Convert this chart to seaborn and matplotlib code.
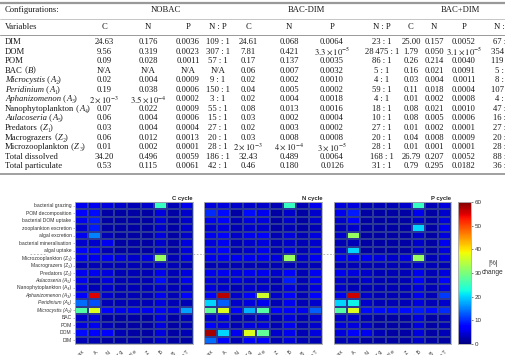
import numpy as np
import pandas as pd
import seaborn as sns
import matplotlib
matplotlib.use("Agg")
from matplotlib import pyplot as plt

# ---- table data ----
configs = ["NOBAC", "BAC-DIM", "BAC+DIM"]
var_names = [
    "DIM", "DOM", "POM", "BAC", "Microcystis", "Peridinium", "Aphanizomenon",
    "Nanophytoplankton", "Aulacoseria", "Predators", "Macrograzers",
    "Microzooplankton", "Total dissolved", "Total particulate",
]
var_symbols = ["", "", "", "B", "A\u2082", "A\u2081", "A\u2083", "A\u2084",
               "A\u2085", "Z\u2081", "Z\u2082", "Z\u2083", "", ""]
italic_names = ["Microcystis", "Peridinium", "Aphanizomenon", "Aulacoseria"]
nobac = [
    ["24.63", "0.176", "0.0036", "109 : 1"],
    ["9.56", "0.319", "0.0023", "307 : 1"],
    ["0.09", "0.028", "0.0011", "57 : 1"],
    ["N/A", "N/A", "N/A", "N/A"],
    ["0.02", "0.004", "0.0009", "9 : 1"],
    ["0.19", "0.038", "0.0006", "150 : 1"],
    [r"$2\times10^{-3}$", r"$3.5\times10^{-4}$", "0.0002", "3 : 1"],
    ["0.07", "0.022", "0.0009", "55 : 1"],
    ["0.06", "0.004", "0.0006", "15 : 1"],
    ["0.03", "0.004", "0.0004", "27 : 1"],
    ["0.06", "0.012", "0.0013", "20 : 1"],
    ["0.01", "0.002", "0.0001", "28 : 1"],
    ["34.20", "0.496", "0.0059", "186 : 1"],
    ["0.53", "0.115", "0.0061", "42 : 1"],
]
bac_dim = [
    ["24.61", "0.068", "0.0064", "23 : 1"],
    ["7.81", "0.421", r"$3.3\times10^{-5}$", "28\u2009475 : 1"],
    ["0.17", "0.137", "0.0035", "86 : 1"],
    ["0.06", "0.007", "0.0032", "5 : 1"],
    ["0.02", "0.002", "0.0010", "4 : 1"],
    ["0.04", "0.005", "0.0002", "59 : 1"],
    ["0.02", "0.004", "0.0018", "4 : 1"],
    ["0.08", "0.013", "0.0016", "18 : 1"],
    ["0.03", "0.002", "0.0004", "10 : 1"],
    ["0.02", "0.003", "0.0002", "27 : 1"],
    ["0.03", "0.008", "0.0008", "20 : 1"],
    [r"$2\times10^{-3}$", r"$4\times10^{-4}$", r"$3\times10^{-5}$", "28 : 1"],
    ["32.43", "0.489", "0.0064", "168 : 1"],
    ["0.46", "0.180", "0.0126", "31 : 1"],
]
bac_plus_dim = [
    ["25.00", "0.157", "0.0052", "67 : 1"],
    ["1.79", "0.050", r"$3.1\times10^{-5}$", "354 : 1"],
    ["0.26", "0.214", "0.0040", "119 : 1"],
    ["0.16", "0.021", "0.0091", "5 : 1"],
    ["0.03", "0.004", "0.0011", "8 : 1"],
    ["0.11", "0.018", "0.0004", "107 : 1"],
    ["0.01", "0.002", "0.0008", "4 : 1"],
    ["0.08", "0.021", "0.0010", "47 : 1"],
    ["0.08", "0.005", "0.0006", "16 : 1"],
    ["0.01", "0.002", "0.0001", "27 : 1"],
    ["0.04", "0.008", "0.0009", "20 : 1"],
    ["0.01", "0.001", "0.0001", "28 : 1"],
    ["26.79", "0.207", "0.0052", "88 : 1"],
    ["0.79", "0.295", "0.0182", "36 : 1"],
]
sub_cols = ["C", "N", "P", "N : P"]

# ---- heatmap data (|%| change) ----
rows = [
    "bacterial grazing", "POM decomposition", "bacterial DOM uptake",
    "zooplankton excretion", "algal excretion", "bacterial mineralisation",
    "algal uptake", "Microzooplankton (Z\u2083)", "Macrograzers (Z\u2082)",
    "Predators (Z\u2081)", "Aulacoseria (A\u2085)", "Nanophytoplankton (A\u2084)",
    "Aphanizomenon (A\u2083)", "Peridinium (A\u2081)", "Microcystis (A\u2082)",
    "BAC", "POM", "DOM", "DIM",
]
italic_rows = ["Aulacoseria (A\u2085)", "Aphanizomenon (A\u2083)",
               "Peridinium (A\u2081)", "Microcystis (A\u2082)"]
params = ["growth rate r_max", "mort m_A", "half-sat k_N", "graz g",
          "eff e", "mort m_Z", "bact. growth r_B", "k_B", "temp T"]

c_cycle = [
    [6, 6, 5, 4, 3, 4, 25, 3, 6],
    [7, 8, 2, 2, 2, 2, 5, 2, 4],
    [6, 9, 2, 2, 2, 2, 5, 2, 4],
    [4, 9, 2, 2, 2, 2, 4, 2, 4],
    [6, 15, 3, 2, 2, 2, 5, 2, 4],
    [4, 4, 6, 2, 2, 2, 4, 2, 5],
    [7, 7, 3, 2, 2, 2, 4, 2, 5],
    [6, 6, 6, 5, 4, 5, 32, 3, 5],
    [3, 3, 3, 3, 3, 3, 4, 3, 3],
    [6, 6, 5, 3, 3, 3, 6, 3, 5],
    [6, 3, 5, 3, 3, 3, 8, 3, 6],
    [5, 3, 4, 3, 3, 3, 4, 3, 4],
    [7, 55, 4, 3, 3, 3, 6, 3, 7],
    [14, 12, 3, 3, 3, 3, 5, 3, 3],
    [27, 37, 7, 6, 6, 6, 7, 5, 17],
    [4, 5, 2, 2, 2, 2, 5, 2, 3],
    [5, 6, 3, 2, 2, 2, 5, 2, 3],
    [8, 7, 7, 3, 2, 2, 5, 2, 3],
    [3, 3, 2, 2, 2, 2, 4, 2, 2],
]
n_cycle = [
    [5, 5, 4, 4, 4, 3, 25, 3, 6],
    [10, 8, 2, 8, 6, 2, 4, 2, 4],
    [6, 7, 3, 5, 5, 2, 4, 2, 4],
    [4, 5, 3, 4, 4, 2, 3, 2, 3],
    [6, 7, 4, 6, 7, 3, 5, 3, 5],
    [5, 6, 3, 4, 5, 3, 4, 3, 4],
    [6, 7, 3, 4, 6, 3, 5, 3, 5],
    [6, 6, 6, 6, 6, 5, 32, 4, 6],
    [3, 3, 3, 3, 3, 3, 3, 3, 3],
    [6, 6, 5, 6, 6, 4, 7, 3, 6],
    [5, 4, 5, 4, 4, 3, 9, 3, 6],
    [5, 4, 3, 4, 4, 3, 5, 3, 5],
    [7, 57, 4, 7, 36, 4, 7, 3, 7],
    [20, 13, 4, 5, 6, 3, 6, 3, 4],
    [28, 37, 7, 18, 27, 7, 7, 6, 13],
    [4, 5, 3, 3, 4, 3, 5, 3, 4],
    [7, 5, 3, 5, 5, 3, 6, 3, 4],
    [58, 20, 6, 37, 28, 4, 6, 3, 5],
    [14, 7, 3, 7, 7, 3, 5, 3, 3],
]
p_cycle = [
    [5, 5, 3, 3, 3, 4, 25, 3, 5],
    [6, 9, 2, 2, 2, 2, 6, 2, 4],
    [4, 7, 2, 2, 2, 2, 4, 2, 5],
    [3, 4, 2, 2, 2, 2, 20, 2, 6],
    [4, 32, 2, 2, 2, 2, 4, 2, 5],
    [3, 3, 2, 2, 2, 2, 4, 2, 6],
    [4, 20, 2, 2, 2, 2, 4, 2, 5],
    [6, 6, 6, 5, 4, 5, 32, 3, 5],
    [3, 3, 3, 3, 3, 3, 4, 3, 3],
    [6, 5, 4, 3, 3, 3, 6, 3, 5],
    [4, 3, 4, 3, 3, 3, 7, 3, 7],
    [4, 3, 3, 3, 3, 3, 5, 3, 5],
    [6, 56, 4, 3, 3, 3, 6, 3, 11],
    [20, 22, 4, 3, 3, 3, 5, 3, 4],
    [27, 37, 8, 8, 8, 8, 9, 8, 10],
    [4, 4, 3, 2, 2, 2, 5, 2, 3],
    [5, 5, 4, 2, 2, 2, 5, 2, 3],
    [5, 7, 6, 3, 2, 2, 5, 2, 3],
    [3, 3, 2, 2, 2, 2, 4, 2, 2],
]
cycles = {"C cycle": c_cycle, "N cycle": n_cycle, "P cycle": p_cycle}

sns.set_theme(style="white")
plt.rcParams["font.family"] = ["Liberation Sans", "DejaVu Sans"]
plt.rcParams["mathtext.fontset"] = "stix"

W, H = 505, 355
fig = plt.figure(figsize=(W / 100, H / 100), dpi=100)


def box(x0, x1, y0, y1):
    return [x0 / W, 1 - y1 / H, (x1 - x0) / W, (y1 - y0) / H]


# table drawn in pixel coordinates
tab = fig.add_axes([0, 0, 1, 1], zorder=0)
tab.set_xlim(0, W)
tab.set_ylim(H, 0)
tab.axis("off")
serif = dict(family=["Liberation Serif", "DejaVu Serif"], fontsize=6.2,
             color="#1a1a1a")

col_x = [104, 148, 188, 218, 248, 289, 332, 382, 411, 434, 464, 503]
head_x = [166, 306, 460]
y_conf, y_var, y0, dy = 9.5, 27, 42, 9.55

tab.axhline(3, color="#999999", lw=1.6)
tab.axhline(18.5, color="#bbbbbb", lw=0.6)
tab.axhline(35, color="#999999", lw=0.7)
tab.axhline(y0 + 13 * dy + 7.5, color="#999999", lw=1.3)

tab.text(5, y_conf, "Configurations:", ha="left", va="center", **serif)
tab.text(5, y_var, "Variables", ha="left", va="center", **serif)
for name, hx in zip(configs, head_x):
    tab.text(hx, y_conf, name, ha="center", va="center", **serif)
for i, x in enumerate(col_x):
    tab.text(x, y_var, sub_cols[i % 4], ha="center", va="center", **serif)


def chain(prev, s, italic=False):
    # place a text piece right after the previous one, same baseline box
    return tab.annotate(s, xy=(1, 0), xycoords=prev, ha="left", va="bottom",
                        fontstyle="italic" if italic else "normal", **serif)


for r, name in enumerate(var_names):
    y = y0 + r * dy
    t = tab.text(5, y, name, ha="left", va="center",
                 fontstyle="italic" if name in italic_names else "normal",
                 **serif)
    sym = var_symbols[r]
    if sym:
        t = chain(t, " (")
        t = chain(t, sym[0], italic=True)
        chain(t, sym[1:] + ")")
    cells = nobac[r] + bac_dim[r] + bac_plus_dim[r]
    for x, val in zip(col_x, cells):
        tab.text(x, y, val, ha="center", va="center", **serif)

# dashed separator between processes and state variables
hm_top, hm_bot = 202, 344
sep_y = hm_top + 7 * (hm_bot - hm_top) / len(rows)
tab.plot([30, 47], [sep_y, sep_y], ls=(0, (2, 2)), color="#aaaaaa", lw=0.6)
tab.plot([193, 334], [sep_y, sep_y], ls=(0, (2, 2)), color="#aaaaaa", lw=0.6)

# heatmaps
panels = [(75, 193), (204, 322), (334, 451)]
cax = fig.add_axes(box(458, 471, hm_top, hm_bot), zorder=2)
for k, (title, values) in enumerate(cycles.items()):
    ax = fig.add_axes(box(panels[k][0], panels[k][1], hm_top, hm_bot), zorder=2)
    df = pd.DataFrame(values, index=rows, columns=params)
    last = k == len(cycles) - 1
    sns.heatmap(
        df, ax=ax, cmap="jet", vmin=0, vmax=60,
        cbar=last, cbar_ax=cax if last else None,
        cbar_kws={"ticks": [0, 10, 20, 30, 40, 50, 60]},
        yticklabels=(k == 0), xticklabels=True,
        linewidths=0.15, linecolor="#2a3a95",
    )
    for s in ax.spines.values():
        s.set_visible(True)
        s.set_color("#b0b0b0")
        s.set_linewidth(0.6)
    ax.set_title(title, loc="right", fontsize=4.2, fontweight="bold", pad=1.5)
    ax.set_xlabel("")
    ax.set_ylabel("")
    ax.tick_params(axis="x", labelsize=3.6, length=0, pad=4, labelcolor="#333333")
    plt.setp(ax.get_xticklabels(), rotation=45, ha="right", rotation_mode="anchor")
    if k == 0:
        ax.tick_params(axis="y", labelsize=3.6, length=1.5, width=0.4, pad=1,
                       color="#888888", labelcolor="#333333", left=True)
        for lab in ax.get_yticklabels():
            lab.set_rotation(0)
            if lab.get_text() in italic_rows:
                lab.set_fontstyle("italic")

cax.tick_params(labelsize=4.5, length=1.5, width=0.4, pad=1, right=True,
                labelcolor="#333333")
for s in cax.spines.values():
    s.set_visible(True)
    s.set_color("#b0b0b0")
    s.set_linewidth(0.5)
fig.text(493 / W, 1 - 268 / H, "|%|\nchange", ha="center", va="center",
         fontsize=4.8, color="#333333", linespacing=1.5)

fig.savefig("out.png", dpi=100)
